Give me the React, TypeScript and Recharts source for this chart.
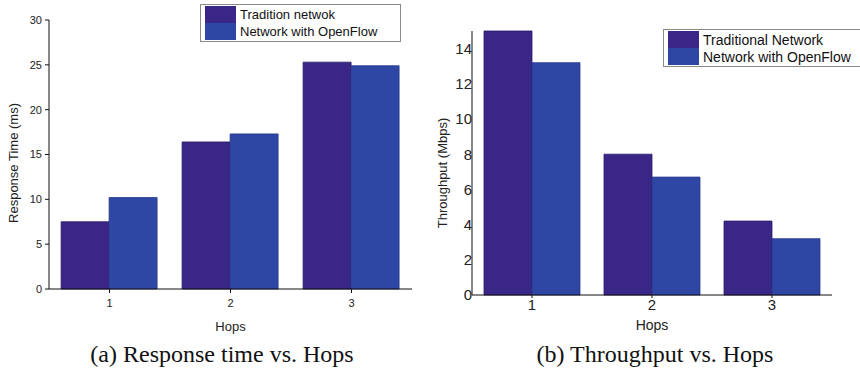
import React from 'react'
import { BarChart, Bar, XAxis, YAxis } from 'recharts'

// ─── Data ─────────────────────────────────────────────────────────────────────

const hops = ['1', '2', '3']

const responseTraditional = [7.5, 16.4, 25.3]
const responseOpenFlow    = [10.2, 17.3, 24.9]

const throughputTraditional = [15, 8.0, 4.2]
const throughputOpenFlow    = [13.2, 6.7, 3.2]

const responseTicks   = [0, 5, 10, 15, 20, 25, 30]
const throughputTicks = [0, 2, 4, 6, 8, 10, 12, 14]

const DARK = '#3a2686'
const BLUE = '#2e47a5'
const SANS = '"Liberation Sans", Arial, sans-serif'

const responseData = hops.map((h, i) => ({
  hop: h,
  traditional: responseTraditional[i],
  openflow: responseOpenFlow[i],
}))

const throughputData = hops.map((h, i) => ({
  hop: h,
  traditional: throughputTraditional[i],
  openflow: throughputOpenFlow[i],
}))

// ─── Legend box ───────────────────────────────────────────────────────────────

function LegendBox({ labels, fontSize, left, top, width }: {
  labels: string[]; fontSize: number; left: number; top: number; width: number
}) {
  const colors = [DARK, BLUE]
  return (
    <div
      style={{
        position: 'absolute',
        left,
        top,
        width,
        border: '1px solid #8a8a8a',
        background: '#fff',
        padding: '1px 4px',
        boxSizing: 'border-box',
        fontFamily: SANS,
        fontSize,
        color: '#111',
      }}
    >
      {labels.map((l, i) => (
        <div key={l} style={{ display: 'flex', alignItems: 'center', height: 17 }}>
          <span style={{ display: 'inline-block', width: 31, height: 17, background: colors[i], marginRight: 4 }} />
          <span style={{ whiteSpace: 'nowrap' }}>{l}</span>
        </div>
      ))}
    </div>
  )
}

// ─── Component ────────────────────────────────────────────────────────────────

export default function App() {
  const caption: React.CSSProperties = {
    position: 'absolute',
    top: 340,
    width: 430,
    textAlign: 'center',
    fontFamily: '"Liberation Serif", "Times New Roman", serif',
    fontSize: 24,
    lineHeight: '28px',
    color: '#111',
  }

  return (
    <div style={{ position: 'absolute', left: 0, top: 0, width: 860, height: 379, background: '#fff', overflow: 'hidden' }}>
      {/* (a) Response time */}
      <div style={{ position: 'absolute', left: 0, top: 0 }}>
        <BarChart
          width={430}
          height={340}
          data={responseData}
          margin={{ top: 20, right: 18, bottom: 0, left: 0 }}
          barCategoryGap="10%"
          barGap={0}
        >
          <XAxis
            dataKey="hop"
            height={51}
            stroke="#111"
            tickSize={4}
            tickMargin={6}
            tick={{ fontSize: 11, fill: '#222', fontFamily: SANS }}
            label={{ value: 'Hops', position: 'insideBottom', offset: 9, fontSize: 13, fill: '#222', fontFamily: SANS }}
          />
          <YAxis
            width={49}
            domain={[0, 30]}
            ticks={responseTicks}
            stroke="#111"
            tickSize={4}
            tickMargin={3}
            tick={{ fontSize: 11, fill: '#222', fontFamily: SANS }}
            label={{
              content: () => (
                <text x={13} y={163} transform="rotate(-90 13 163)" textAnchor="middle" dominantBaseline="central"
                  fontSize={13} fill="#222" fontFamily={SANS}>
                  Response Time (ms)
                </text>
              ),
            }}
          />
          <Bar dataKey="traditional" fill={DARK} stroke="#2a1a66" strokeWidth={0.8} isAnimationActive={false} />
          <Bar dataKey="openflow" fill={BLUE} stroke="#2a3a8a" strokeWidth={0.8} isAnimationActive={false} />
        </BarChart>
        <LegendBox labels={['Tradition netwok', 'Network with OpenFlow']} fontSize={13} left={200} top={4} width={201} />
      </div>

      {/* (b) Throughput */}
      <div style={{ position: 'absolute', left: 430, top: 0 }}>
        <BarChart
          width={430}
          height={340}
          data={throughputData}
          margin={{ top: 31, right: 28, bottom: 0, left: 0 }}
          barCategoryGap="10%"
          barGap={0}
        >
          <XAxis
            dataKey="hop"
            height={45}
            stroke="#111"
            tickSize={3}
            tickMargin={1}
            tick={{ fontSize: 15, fill: '#222', fontFamily: SANS }}
            label={{ value: 'Hops', position: 'insideBottom', offset: 10, fontSize: 14, fill: '#222', fontFamily: SANS }}
          />
          <YAxis
            width={42}
            domain={[0, 15]}
            ticks={throughputTicks}
            stroke="#111"
            tickSize={0}
            tickMargin={0}
            tick={{ fontSize: 15, fill: '#222', fontFamily: SANS }}
            label={{
              content: () => (
                <text x={12} y={173} transform="rotate(-90 12 173)" textAnchor="middle" dominantBaseline="central"
                  fontSize={13} fill="#222" fontFamily={SANS}>
                  Throughput (Mbps)
                </text>
              ),
            }}
          />
          <Bar dataKey="traditional" fill={DARK} stroke="#2a1a66" strokeWidth={0.8} isAnimationActive={false} />
          <Bar dataKey="openflow" fill={BLUE} stroke="#2a3a8a" strokeWidth={0.8} isAnimationActive={false} />
        </BarChart>
        <LegendBox labels={['Traditional Network', 'Network with OpenFlow']} fontSize={14} left={233} top={29} width={200} />
      </div>

      <div style={{ ...caption, left: 7 }}>(a) Response time vs. Hops</div>
      <div style={{ ...caption, left: 440 }}>(b) Throughput vs. Hops</div>
    </div>
  )
}
